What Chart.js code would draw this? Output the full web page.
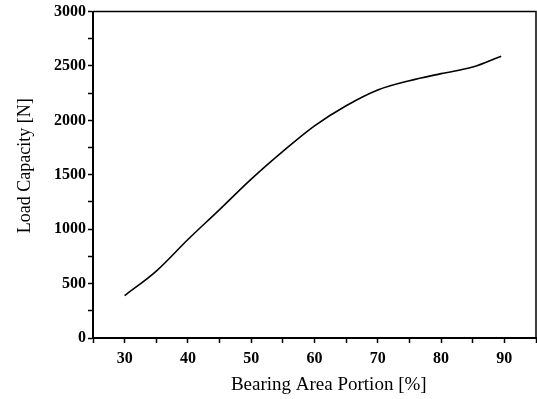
<!DOCTYPE html>
<html><head><meta charset="utf-8">
<script src="https://cdn.jsdelivr.net/npm/chart.js@4.4.0/dist/chart.umd.min.js"></script>
<style>html,body{margin:0;padding:0;background:#fff}canvas{display:block}</style>
</head><body>
<canvas id="c" width="537" height="399" style="width:537px;height:399px"></canvas>
<script>
// Data
const bearingAreaPortion = [30, 35, 40, 45, 50, 55, 60, 65, 70, 75, 80, 85, 89.5];
const loadCapacity = [390, 615, 905, 1180, 1460, 1715, 1950, 2135, 2280, 2365, 2430, 2490, 2590];
const xTickLabels = [30, 40, 50, 60, 70, 80, 90];
const yTickLabels = [0, 500, 1000, 1500, 2000, 2500, 3000];
const xAxisTitle = '      Bearing Area Portion [%]';
const yAxisTitle = '    Load Capacity [N]';

const framePlugin = {
  id: 'frame',
  afterDraw(chart) {
    const { ctx, chartArea: a } = chart;
    ctx.save();
    ctx.strokeStyle = '#000';
    ctx.lineWidth = 1.5;
    ctx.beginPath();
    ctx.moveTo(a.left, a.top);
    ctx.lineTo(a.right, a.top);
    ctx.lineTo(a.right, a.bottom);
    ctx.stroke();
    ctx.restore();
  }
};

const serif = "'Liberation Serif', 'Times New Roman', serif";

new Chart(document.getElementById('c'), {
  type: 'line',
  data: {
    datasets: [{
      data: bearingAreaPortion.map((x, i) => ({ x: x, y: loadCapacity[i] })),
      borderColor: '#000',
      borderWidth: 1.6,
      pointRadius: 0,
      fill: false,
      cubicInterpolationMode: 'monotone'
    }]
  },
  options: {
    responsive: false,
    animation: false,
    devicePixelRatio: 1,
    layout: { padding: { top: 11, right: 1, left: 0, bottom: 0 } },
    plugins: { legend: { display: false }, tooltip: { enabled: false } },
    scales: {
      x: {
        type: 'linear',
        min: 25, max: 95,
        afterFit(s) { s.height = 61; s.paddingLeft = 0; s.paddingRight = 0; },
        ticks: {
          stepSize: 5,
          autoSkip: false,
          maxRotation: 0,
          padding: 6,
          color: '#000',
          font: { family: serif, size: 16, weight: 'bold' },
          callback: v => xTickLabels.includes(v) ? String(v) : ''
        },
        grid: { drawOnChartArea: false, drawTicks: true, tickLength: 5, tickWidth: 1.5, tickColor: '#000' },
        border: { display: true, color: '#000', width: 2 },
        title: {
          display: true, text: xAxisTitle, color: '#000',
          font: { family: serif, size: 19, weight: 'normal' },
          padding: { top: 0, bottom: 3 }
        }
      },
      y: {
        type: 'linear',
        min: 0, max: 3000,
        afterFit(s) { s.width = 93; },
        ticks: {
          stepSize: 250,
          autoSkip: false,
          padding: 2,
          color: '#000',
          font: { family: serif, size: 16, weight: 'bold' },
          callback: v => yTickLabels.includes(v) ? String(v) : ''
        },
        grid: { drawOnChartArea: false, drawTicks: true, tickLength: 5, tickWidth: 1.5, tickColor: '#000' },
        border: { display: true, color: '#000', width: 2 },
        title: {
          display: true, text: yAxisTitle, color: '#000',
          font: { family: serif, size: 18, weight: 'normal' },
          padding: { top: 14, bottom: 0 }
        }
      }
    }
  },
  plugins: [framePlugin]
});
</script>
</body></html>
